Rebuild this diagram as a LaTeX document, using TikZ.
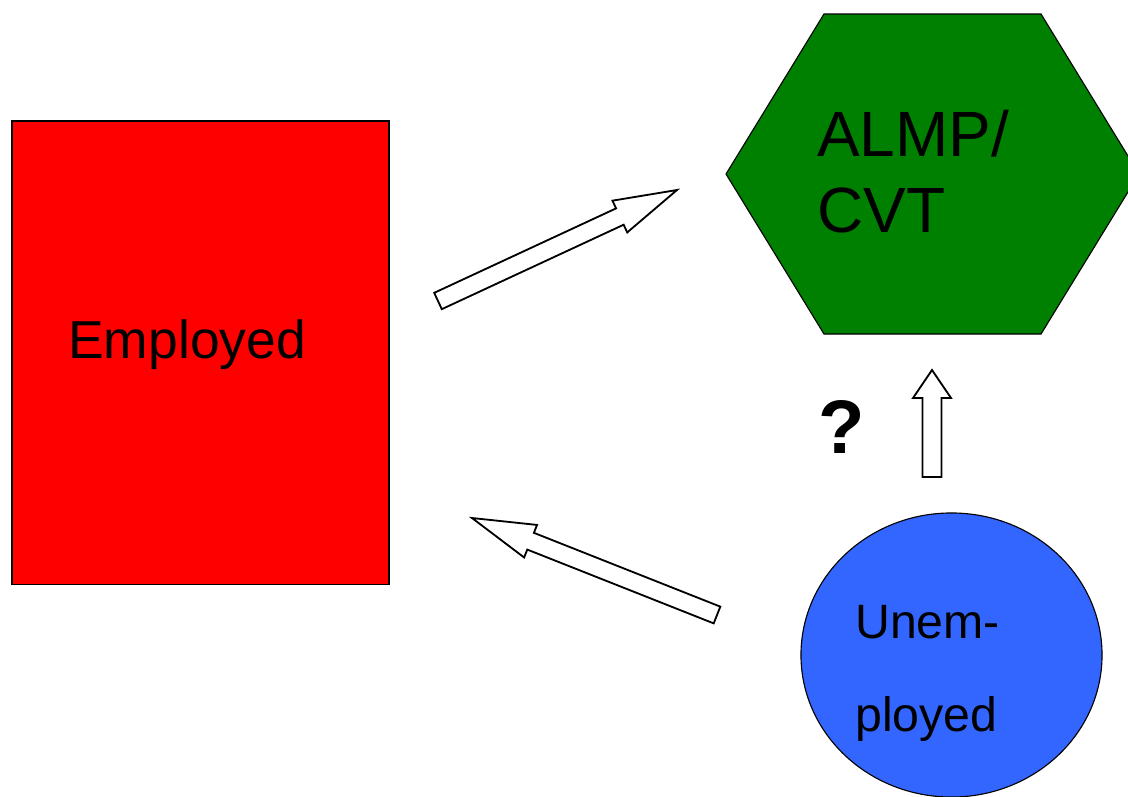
\documentclass[tikz,border=0pt]{standalone}
\usepackage{fontspec}
\setmainfont{Liberation Sans}
\usepackage{tikz}
\usetikzlibrary{calc,shapes.geometric}
\definecolor{empred}{HTML}{FF0000}
\definecolor{almpgreen}{HTML}{008000}
\definecolor{unempblue}{HTML}{3366FF}
\definecolor{ink}{HTML}{000000}
\tikzset{
  shp/.style={draw=ink, line width=0.8pt},
  empbox/.style={shp, rectangle, fill=empred, minimum width=9.425cm,
                 minimum height=11.575cm, inner sep=0pt},
  hexbox/.style={shp, fill=almpgreen},
  unempbox/.style={shp, ellipse, fill=unempblue, minimum width=7.525cm,
                   minimum height=7.1cm, inner sep=0pt},
  blk/.style={draw=ink, fill=white, line width=1.3pt},
  lbl/.style={anchor=base west, inner sep=0pt, text=ink}
}
% hollow block arrow: tail, tip, half shaft, half head, head length
\newcommand{\blockarrow}[5]{%
  \path ($(#2)!#5!(#1)$) coordinate (#2-hb);
  \draw[blk] ($(#1)!#3!90:(#2)$) -- ($(#2-hb)!#3!-90:(#1)$)
    -- ($(#2-hb)!#4!-90:(#1)$) -- (#2) -- ($(#2-hb)!#4!90:(#1)$)
    -- ($(#2-hb)!#3!90:(#1)$) -- ($(#1)!#3!-90:(#2)$) -- cycle;}

\begin{document}
\begin{tikzpicture}[x=0.025cm, y=-0.025cm]
  \useasboundingbox (0,0) rectangle (1128,796);
  % states
  \node[empbox] (emp) at (200.5,352.5) {};
  \coordinate (almp) at (932.5,174);
  \path[hexbox] (almp) ++(-206.5,0) -- ++(98,-160) -- ++(217,0) -- ++(98,160)
    -- ++(-98,160) -- ++(-217,0) -- cycle;
  \node[unempbox] (unemp) at (951.5,655) {};
  % labels
  \node[lbl, font=\fontsize{38}{46}\selectfont] (emptxt) at (68,358) {Employed};
  \node[lbl, font=\fontsize{45.5}{55}\selectfont] (almptxt) at (817,156) {ALMP/};
  \node[lbl, font=\fontsize{45.5}{55}\selectfont] (cvttxt) at (817,232) {CVT};
  \node[lbl, font=\fontsize{34.3}{40}\selectfont] (unemtxt) at (855,638) {Unem-};
  \node[lbl, font=\fontsize{34.3}{40}\selectfont] (ploytxt) at (855,731) {ployed};
  \node[lbl, anchor=base, font=\fontsize{54}{60}\selectfont\bfseries] (qmark) at (841.5,453) {?};
  % flows
  \coordinate (a1s) at (438,301);
  \coordinate (a1e) at (677,190);
  \coordinate (a2s) at (717,615);
  \coordinate (a2e) at (472,518);
  \coordinate (a3s) at (932,477);
  \coordinate (a3e) at (932,370);
  \blockarrow{a1s}{a1e}{0.225cm}{0.4375cm}{1.575cm}
  \blockarrow{a2s}{a2e}{0.225cm}{0.4375cm}{1.575cm}
  \blockarrow{a3s}{a3e}{0.2375cm}{0.475cm}{0.7cm}
\end{tikzpicture}
\end{document}
